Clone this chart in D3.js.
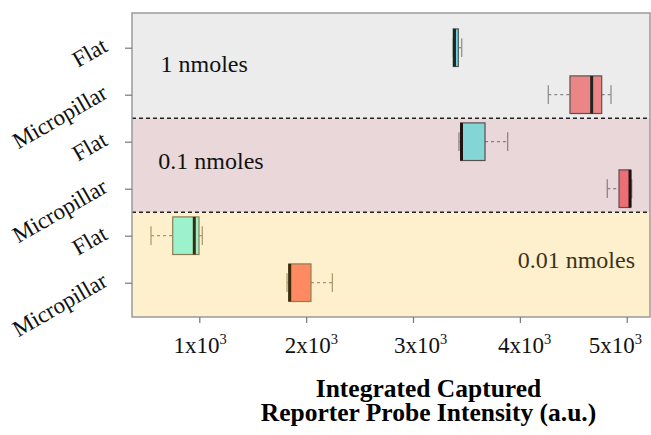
<!DOCTYPE html>
<html>
<head>
<meta charset="utf-8">
<script src="https://cdn.jsdelivr.net/npm/d3@7"></script>
<style>
  html, body { margin: 0; padding: 0; background: #fff; }
  svg { display: block; }
  text { font-family: "Liberation Serif", "Times New Roman", serif; }
</style>
</head>
<body>
<svg id="chart" width="651" height="435"></svg>
<script>
// ---- data ----
const categories = ["Flat", "Micropillar", "Flat", "Micropillar", "Flat", "Micropillar"];
const groups = ["1 nmoles", "0.1 nmoles", "0.01 nmoles"];
const groupOfRow = [0, 0, 1, 1, 2, 2];
const lowerWhisker = [3377, 4266, 3430, 4818, 548, 1821];
const q1 = [3377, 4469, 3446, 4928, 751, 1837];
const median = [3388, 4672, 3454, 5031, 953, 1846];
const q3 = [3424, 4766, 3674, 5037, 997, 2045];
const upperWhisker = [3456, 4853, 3886, 5047, 1028, 2245];
const xTicks = [1000, 2000, 3000, 4000, 5000];
const xTickMantissa = ["1", "2", "3", "4", "5"];
const xTitle = ["Integrated Captured", "Reporter Probe Intensity (a.u.)"];

// ---- styles ----
const boxFill = ["#62dede", "#ec8686", "#84d5d6", "#ec6f76", "#9cf2cc", "#ff8a62"];
const bandFill = ["#ececec", "#ead7d9", "#fef0cc"];
const lineCol = ["#555555", "#5a4f51", "#8c7d55"];
const medCol = ["#222222", "#1e1416", "#3a2c0c"];
const whiskCol = ["#8a8a8a", "#8a7c7e", "#a8976a"];
const labelCol = ["#111111", "#111111", "#3b3320"];
const tickLabelShift = [0.7, 5.3, 7.7, 4.7, -11.3];

const svg = d3.select("#chart");
const pLeft = 132, pRight = 650, pTop = 13, pBottom = 317;

const x = d3.scaleLinear().domain([370, 5218]).range([pLeft, pRight]);
const y = d3.scalePoint().domain(d3.range(categories.length)).range([47.7, 282.7]);
const step = y.step();
const boxH = step * 0.8;

// background bands
const bandEdges = [pTop, y(1) + step / 2, y(3) + step / 2, pBottom];
svg.append("g").selectAll("rect").data(groups).join("rect")
  .attr("x", pLeft).attr("width", pRight - pLeft)
  .attr("y", (d, i) => bandEdges[i])
  .attr("height", (d, i) => bandEdges[i + 1] - bandEdges[i])
  .attr("fill", (d, i) => bandFill[i]);

// boxes
const rows = d3.range(categories.length);
const g = svg.append("g");
rows.forEach(i => {
  const gi = groupOfRow[i];
  const cy = y(i);
  g.append("line").attr("x1", x(lowerWhisker[i])).attr("x2", x(q1[i]))
    .attr("y1", cy).attr("y2", cy).attr("stroke", whiskCol[gi]).attr("stroke-width", 1.2)
    .attr("stroke-dasharray", "3,3");
  g.append("line").attr("x1", x(q3[i])).attr("x2", x(upperWhisker[i]))
    .attr("y1", cy).attr("y2", cy).attr("stroke", whiskCol[gi]).attr("stroke-width", 1.2)
    .attr("stroke-dasharray", "3,3");
  [lowerWhisker[i], upperWhisker[i]].forEach(v => {
    g.append("line").attr("x1", x(v)).attr("x2", x(v))
      .attr("y1", cy - boxH / 4).attr("y2", cy + boxH / 4)
      .attr("stroke", whiskCol[gi]).attr("stroke-width", 1.2);
  });
  g.append("rect").attr("x", x(q1[i])).attr("width", Math.max(1, x(q3[i]) - x(q1[i])))
    .attr("y", cy - boxH / 2).attr("height", boxH)
    .attr("fill", boxFill[i]).attr("stroke", lineCol[gi]).attr("stroke-width", 1.2);
  g.append("line").attr("x1", x(median[i])).attr("x2", x(median[i]))
    .attr("y1", cy - boxH / 2).attr("y2", cy + boxH / 2)
    .attr("stroke", medCol[gi]).attr("stroke-width", 3);
});

// dashed separators
svg.append("g").selectAll("line").data([bandEdges[1], bandEdges[2]]).join("line")
  .attr("x1", pLeft).attr("x2", pRight).attr("y1", d => d).attr("y2", d => d)
  .attr("stroke", "#222").attr("stroke-width", 1.5).attr("stroke-dasharray", "4,3");

// group labels
const labelPos = [
  {x: 160.5, y: 71.7, anchor: "start"},
  {x: 158.3, y: 169.3, anchor: "start"},
  {x: 635, y: 268.3, anchor: "end"}
];
svg.append("g").selectAll("text").data(groups).join("text")
  .attr("x", (d, i) => labelPos[i].x).attr("y", (d, i) => labelPos[i].y)
  .attr("text-anchor", (d, i) => labelPos[i].anchor)
  .attr("font-size", 24).attr("fill", (d, i) => labelCol[i])
  .text(d => d);

// frame
svg.append("rect").attr("x", pLeft).attr("y", pTop).attr("width", pRight - pLeft).attr("height", pBottom - pTop)
  .attr("fill", "none").attr("stroke", "#9a9a9a").attr("stroke-width", 1.5);

// x axis
const xAxis = svg.append("g").attr("transform", `translate(0,${pBottom})`)
  .call(d3.axisBottom(x).tickValues(xTicks).tickSize(6).tickFormat(""));
xAxis.select(".domain").remove();
xAxis.selectAll(".tick line").attr("stroke", "#777").attr("stroke-width", 1.2);
xTicks.forEach((v, i) => {
  const t = svg.append("text").attr("x", x(v) + tickLabelShift[i]).attr("y", 352.7)
    .attr("text-anchor", "middle").attr("font-size", 23).attr("fill", "#111");
  t.append("tspan").text(xTickMantissa[i] + "x10");
  t.append("tspan").attr("font-size", 14.5).attr("dy", -8.5).text("3");
});

// y axis
const yAxis = svg.append("g").attr("transform", `translate(${pLeft},0)`)
  .call(d3.axisLeft(y).tickSize(7).tickFormat(""));
yAxis.select(".domain").remove();
yAxis.selectAll(".tick line").attr("stroke", "#777").attr("stroke-width", 1.2);
svg.append("g").selectAll("text").data(categories).join("text")
  .attr("transform", (d, i) => `translate(109,${y(i) + 2.5}) rotate(-30)`)
  .attr("text-anchor", "end").attr("font-size", 23).attr("fill", "#111")
  .text(d => d);

// x title
svg.append("g").selectAll("text").data(xTitle).join("text")
  .attr("x", 428.5).attr("y", (d, i) => 397 + i * 24)
  .attr("text-anchor", "middle").attr("font-size", 25.5).attr("font-weight", "bold")
  .attr("fill", "#000").text(d => d);
</script>
</body>
</html>
